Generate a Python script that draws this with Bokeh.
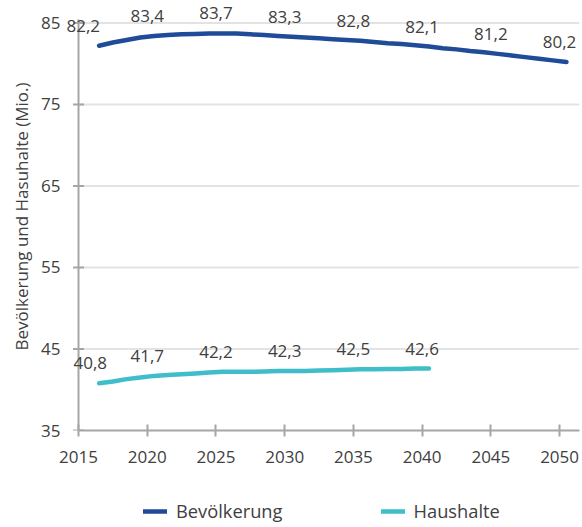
from bokeh.plotting import figure
from bokeh.layouts import column
from bokeh.models import (Range1d, FixedTicker, Legend, LegendItem, ColumnDataSource,
                          LabelSet, Title)
from bokeh.core.properties import value
from bokeh.embed import file_html
from bokeh.resources import INLINE

# Annual values (millions)
years_bev = list(range(2016, 2051))
bevoelkerung = [82.2, 82.6, 82.9, 83.2, 83.4, 83.5, 83.6, 83.65, 83.7, 83.7,
                83.7, 83.6, 83.5, 83.4, 83.3, 83.2, 83.1, 83.0, 82.9, 82.8,
                82.65, 82.5, 82.4, 82.25, 82.1, 81.9, 81.75, 81.55, 81.4, 81.2,
                81.0, 80.8, 80.6, 80.4, 80.2]

years_hh = list(range(2016, 2041))
haushalte = [40.8, 41.0, 41.3, 41.5, 41.7, 41.8, 41.9, 42.0, 42.1, 42.2,
             42.2, 42.2, 42.25, 42.3, 42.3, 42.3, 42.35, 42.4, 42.45, 42.5,
             42.5, 42.55, 42.55, 42.6, 42.6]

# Years that carry a value label
label_years_bev = [2016, 2020, 2025, 2030, 2035, 2040, 2045, 2050]
label_years_hh = [2016, 2020, 2025, 2030, 2035, 2040]

x_ticks = [2015, 2020, 2025, 2030, 2035, 2040, 2045, 2050]
y_ticks = [35, 45, 55, 65, 75, 85]

BLUE = "#1f4b99"
TEAL = "#3fbdc9"
TEXT = "#404040"
AXIS = "#a6a6a6"
GRID = "#e3e3e3"
FONT = "Open Sans"
LINE_W = 4.5

X0, X1 = 2015, 2051.45     # extent of the value axis and gridlines
Y0, Y1 = 35, 85

# The drawing area reaches a little left of 2015 and above 85 so that
# value labels near the edges are not cut off; the visible axis line,
# ticks and gridlines are drawn at 2015 / 35..85 below.
p = figure(width=582, height=476, output_backend="svg", toolbar_location=None,
           x_range=Range1d(2013.981, X1), y_range=Range1d(Y0, 87.5),
           min_border_left=64, min_border_right=3, min_border_top=2,
           min_border_bottom=46)
p.outline_line_color = None
p.background_fill_color = "white"
p.border_fill_color = "white"

# Horizontal gridlines
grid_y = [t for t in y_ticks if t > Y0]
p.segment(x0=[X0] * len(grid_y), y0=grid_y, x1=[X1] * len(grid_y), y1=grid_y,
          line_color=GRID, line_width=2)

# Vertical value axis with ticks crossing it
p.segment(x0=[X0], y0=[Y0], x1=[X0], y1=[Y1 + 0.4], line_color=AXIS, line_width=2)
p.scatter(x=[X0] * len(y_ticks), y=y_ticks, marker="dash", size=11,
          line_color=AXIS, line_width=2)

# Points sit in the middle of each year slot
def centred(ys):
    return [y + 0.5 for y in ys]

p.line(centred(years_bev), bevoelkerung, line_color=BLUE, line_width=LINE_W,
       line_cap="round", line_join="round")
p.line(centred(years_hh), haushalte, line_color=TEAL, line_width=LINE_W,
       line_cap="round", line_join="round")

def fmt(v):
    return f"{v:.1f}".replace(".", ",")

bev_lookup = dict(zip(years_bev, bevoelkerung))
hh_lookup = dict(zip(years_hh, haushalte))

# The first population label is nudged left, clear of the line start
nudge_bev = [-9, 0, 0, 0, 0, 0, 0, 0]
nudge_hh = [-2, 0, 0, 0, 0, 0]

src_bev = ColumnDataSource(dict(
    x=label_years_bev,
    y=[bev_lookup[y] for y in label_years_bev],
    t=[fmt(bev_lookup[y]) for y in label_years_bev],
    dx=nudge_bev))
src_hh = ColumnDataSource(dict(
    x=label_years_hh,
    y=[hh_lookup[y] for y in label_years_hh],
    t=[fmt(hh_lookup[y]) for y in label_years_hh],
    dx=nudge_hh))

for src in (src_bev, src_hh):
    p.add_layout(LabelSet(x="x", y="y", text="t", source=src,
                          x_offset="dx", y_offset=20,
                          text_align="center", text_baseline="middle",
                          text_font=value(FONT), text_font_size="17px",
                          text_color=TEXT))

# Axes
for ax in (p.xaxis[0], p.yaxis[0]):
    ax.minor_tick_line_color = None
    ax.major_label_text_font = FONT
    ax.major_label_text_font_size = "17px"
    ax.major_label_text_color = TEXT

xa = p.xaxis[0]
xa.ticker = FixedTicker(ticks=x_ticks)
xa.bounds = (X0, X1)
xa.axis_line_color = AXIS
xa.axis_line_width = 2
xa.major_tick_line_color = AXIS
xa.major_tick_line_width = 2
xa.major_tick_in = 6
xa.major_tick_out = 6
xa.major_label_standoff = 14

ya = p.yaxis[0]
ya.ticker = FixedTicker(ticks=y_ticks)
ya.axis_line_color = None
ya.major_tick_line_color = None
ya.major_tick_in = 0
ya.major_tick_out = 0
ya.major_label_standoff = 4

# Vertical axis title, set a little below the middle of the value range
p.add_layout(Title(text="Bevölkerung und Hasuhalte (Mio.)", align="center",
                   offset=-26, standoff=12, text_font=FONT,
                   text_font_size="17px", text_font_style="normal",
                   text_color=TEXT), "left")

p.xgrid.grid_line_color = None
p.ygrid.grid_line_color = None

# Legend strip underneath the chart
leg = figure(width=582, height=51, output_backend="svg", toolbar_location=None,
             x_range=Range1d(0, 1), y_range=Range1d(0, 1),
             min_border=0, outline_line_color=None)
leg.axis.visible = False
leg.grid.visible = False
k_bev = leg.line([-5, -4], [-5, -4], line_color=BLUE, line_width=LINE_W, line_cap="round")
k_hh = leg.line([-5, -4], [-5, -4], line_color=TEAL, line_width=LINE_W, line_cap="round")

legend = Legend(items=[LegendItem(label="Bevölkerung", renderers=[k_bev]),
                       LegendItem(label="Haushalte", renderers=[k_hh])],
                orientation="horizontal", location=(79, 4),
                spacing=98, glyph_width=24, glyph_height=20, label_standoff=9,
                label_text_font=FONT, label_text_font_size="18.3px",
                label_text_color=TEXT, border_line_color=None,
                background_fill_alpha=0, margin=0, padding=0)
leg.add_layout(legend, "center")

layout = column(p, leg, spacing=0)
open("out.html", "w").write(file_html(layout, INLINE))
